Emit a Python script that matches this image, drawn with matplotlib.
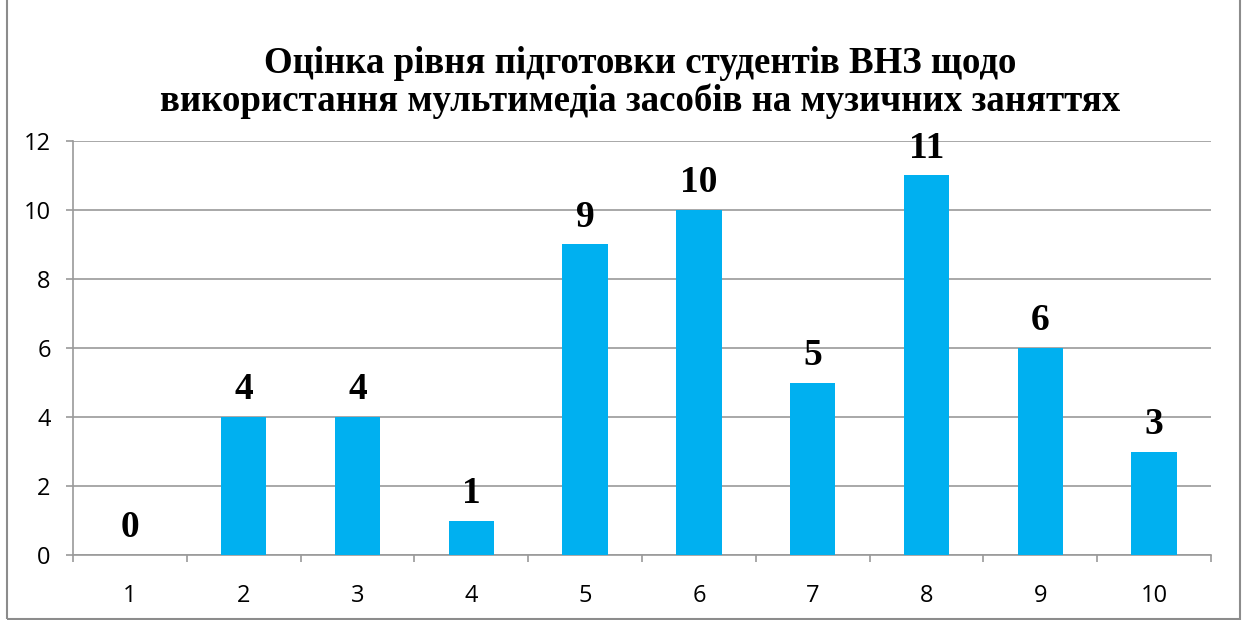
import matplotlib.pyplot as plt
from matplotlib.patches import Rectangle
from matplotlib.ticker import MultipleLocator

# Дані з діаграми
categories = [1, 2, 3, 4, 5, 6, 7, 8, 9, 10]
values = [0, 4, 4, 1, 9, 10, 5, 11, 6, 3]
y_ticks = [0, 2, 4, 6, 8, 10, 12]
title = ("Оцінка рівня підготовки студентів ВНЗ щодо\n"
         "використання мультимедіа засобів на музичних заняттях")

fig = plt.figure(figsize=(12.45, 6.2), dpi=100)
ax = fig.add_axes([0.0586, 0.1048, 0.9141, 0.6678])

grid_color = "#9a9a9a"
ax.bar(categories, values, width=0.4, color="#00B0F0", zorder=3)

for x, v in zip(categories, values):
    ax.annotate(str(v), (x, v), xytext=(0, 7), textcoords="offset points",
                ha="center", va="bottom", fontsize=27, fontweight="bold",
                family="Liberation Serif")

ax.set_xlim(0.5, 10.5)
ax.set_ylim(0, 12)
ax.set_yticks(y_ticks)
ax.set_xticks(categories)
ax.xaxis.set_minor_locator(MultipleLocator(1, offset=0.5))
ax.tick_params(axis="x", which="major", length=0, pad=21)
ax.tick_params(axis="x", which="minor", length=5, color=grid_color, width=1.2)
ax.tick_params(axis="y", length=5, color=grid_color, width=1.2, pad=11)
for lab in ax.get_xticklabels() + ax.get_yticklabels():
    lab.set_fontsize(17)
    lab.set_family("Open Sans")

ax.yaxis.grid(True, color=grid_color, linewidth=1.2, zorder=0)
for s in ["top", "right"]:
    ax.spines[s].set_visible(False)
for s in ["left", "bottom"]:
    ax.spines[s].set_color(grid_color)
    ax.spines[s].set_linewidth(1.2)

fig.text(0.514, 0.926, title, ha="center", va="top", fontsize=26.6,
         fontweight="bold", family="Liberation Serif", linespacing=1.1)

# рамка навколо діаграми (верхній край за межами картинки)
fig.add_artist(Rectangle((7 / 1245, 1 / 620), 1233 / 1245, 1.05,
                         transform=fig.transFigure, fill=False,
                         edgecolor="#8c8c8c", linewidth=1.5, clip_on=False))

fig.savefig("out.png", dpi=100)
